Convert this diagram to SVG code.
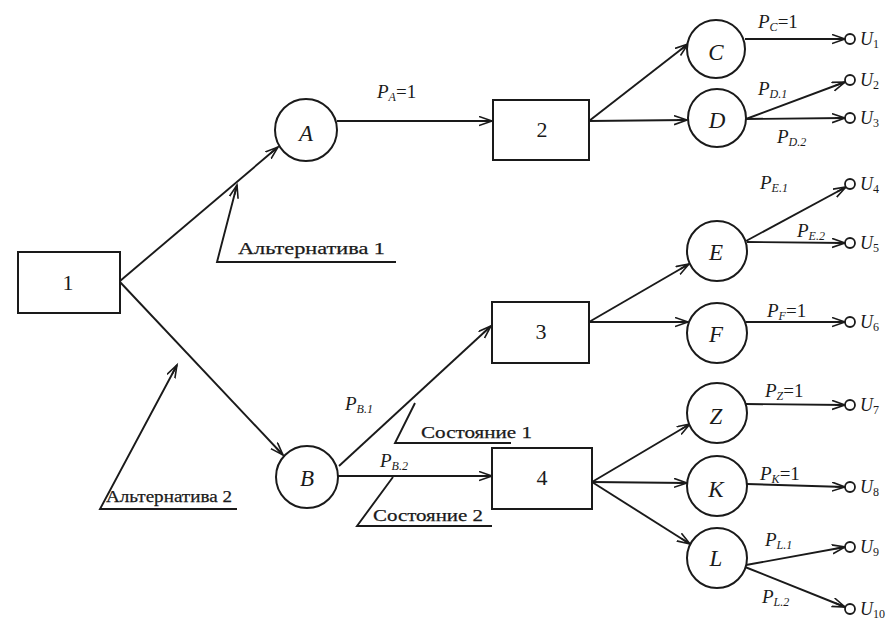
<svg xmlns="http://www.w3.org/2000/svg" width="894" height="627" viewBox="0 0 894 627">
<style>
.ln{fill:none;stroke:#1a1a1a;stroke-width:1.9}
.box{fill:#fff;stroke:#1a1a1a;stroke-width:2}
.nd{fill:#fff;stroke:#1a1a1a;stroke-width:2}
.term{fill:#fff;stroke:#1a1a1a;stroke-width:1.8}
.bl{font-family:"Liberation Serif",serif;font-size:22px;fill:#1a1a1a;text-anchor:middle}
.nl{font-family:"Liberation Serif",serif;font-style:italic;font-size:23px;fill:#1a1a1a;text-anchor:middle}
.p{font-family:"Liberation Serif",serif;font-style:italic;font-size:19px;fill:#1a1a1a}
.u{font-family:"Liberation Serif",serif;font-style:italic;font-size:18px;fill:#1a1a1a}
.s{font-size:12px;font-style:italic}
.up{font-style:normal}
.ru{font-family:"Liberation Serif",serif;font-size:17px;fill:#1a1a1a;stroke:#1a1a1a;stroke-width:0.25}
</style>
<defs>
<marker id="ar" markerUnits="userSpaceOnUse" markerWidth="16" markerHeight="12" refX="13" refY="5" orient="auto">
<path d="M0,0.5 L13,5 L0,9.5 M3,5 L13,5" fill="none" stroke="#1a1a1a" stroke-width="1.6"/>
</marker>
</defs>
<rect width="894" height="627" fill="#fff"/>

<g id="connectors">
<line class="ln" x1="120" y1="281" x2="278" y2="147" marker-end="url(#ar)"/>
<line class="ln" x1="120" y1="282" x2="283" y2="455" marker-end="url(#ar)"/>
<line class="ln" x1="337" y1="121" x2="492" y2="121" marker-end="url(#ar)"/>
<line class="ln" x1="589" y1="121" x2="688" y2="44" marker-end="url(#ar)"/>
<line class="ln" x1="589" y1="121" x2="687" y2="120" marker-end="url(#ar)"/>
<line class="ln" x1="339" y1="466" x2="491" y2="326" marker-end="url(#ar)"/>
<line class="ln" x1="338" y1="476" x2="492" y2="476" marker-end="url(#ar)"/>
<line class="ln" x1="589" y1="322" x2="689" y2="264" marker-end="url(#ar)"/>
<line class="ln" x1="589" y1="322" x2="688" y2="322" marker-end="url(#ar)"/>
<line class="ln" x1="592" y1="482" x2="690" y2="424" marker-end="url(#ar)"/>
<line class="ln" x1="592" y1="482" x2="687" y2="483" marker-end="url(#ar)"/>
<line class="ln" x1="592" y1="482" x2="690" y2="544" marker-end="url(#ar)"/>
<line class="ln" x1="745" y1="39" x2="845" y2="39" marker-end="url(#ar)"/>
<line class="ln" x1="746" y1="119" x2="845" y2="82" marker-end="url(#ar)"/>
<line class="ln" x1="746" y1="119" x2="845" y2="118" marker-end="url(#ar)"/>
<line class="ln" x1="746" y1="241" x2="846" y2="187" marker-end="url(#ar)"/>
<line class="ln" x1="747" y1="242" x2="845" y2="243" marker-end="url(#ar)"/>
<line class="ln" x1="746" y1="322" x2="845" y2="322" marker-end="url(#ar)"/>
<line class="ln" x1="746" y1="404" x2="845" y2="405" marker-end="url(#ar)"/>
<line class="ln" x1="747" y1="484" x2="845" y2="487" marker-end="url(#ar)"/>
<line class="ln" x1="746" y1="565" x2="845" y2="547" marker-end="url(#ar)"/>
<line class="ln" x1="745" y1="567" x2="845" y2="607" marker-end="url(#ar)"/>
</g>

<g id="callouts">
<polyline class="ln" points="396,262 217,262 237,185" marker-end="url(#ar)"/>
<polyline class="ln" points="237,509 100,509 177,365" marker-end="url(#ar)"/>
<polyline class="ln" points="415,403 395,443 511,443"/>
<polyline class="ln" points="393,477 357,526 492,526"/>
<text class="ru" x="238" y="254" textLength="147" lengthAdjust="spacingAndGlyphs">Альтернатива 1</text>
<text class="ru" x="106" y="502" textLength="126" lengthAdjust="spacingAndGlyphs">Альтернатива 2</text>
<text class="ru" x="421" y="438" textLength="111" lengthAdjust="spacingAndGlyphs">Состояние 1</text>
<text class="ru" x="373" y="521" textLength="110" lengthAdjust="spacingAndGlyphs">Состояние 2</text>
</g>

<g id="n1"><rect class="box" x="18" y="252" width="102" height="61"/><text class="bl" x="68" y="290">1</text></g>
<g id="n2"><rect class="box" x="493" y="100" width="96" height="60"/><text class="bl" x="542" y="137">2</text></g>
<g id="n3"><rect class="box" x="492" y="302" width="97" height="61"/><text class="bl" x="541" y="339">3</text></g>
<g id="n4"><rect class="box" x="492" y="448" width="100" height="61"/><text class="bl" x="542" y="485">4</text></g>

<g id="nA"><circle class="nd" cx="306" cy="130" r="31"/><text class="nl" x="306" y="141">A</text></g>
<g id="nB"><circle class="nd" cx="307" cy="477" r="31"/><text class="nl" x="307" y="486">B</text></g>
<g id="nC"><circle class="nd" cx="716" cy="49" r="29"/><text class="nl" x="716" y="60">C</text></g>
<g id="nD"><circle class="nd" cx="717" cy="118" r="29"/><text class="nl" x="717" y="128">D</text></g>
<g id="nE"><circle class="nd" cx="717" cy="251" r="30"/><text class="nl" x="716" y="260">E</text></g>
<g id="nF"><circle class="nd" cx="717" cy="333" r="30"/><text class="nl" x="716" y="342">F</text></g>
<g id="nZ"><circle class="nd" cx="717" cy="413" r="30"/><text class="nl" x="716" y="424">Z</text></g>
<g id="nK"><circle class="nd" cx="717" cy="486" r="30"/><text class="nl" x="716" y="497">K</text></g>
<g id="nL"><circle class="nd" cx="717" cy="558" r="30"/><text class="nl" x="716" y="566">L</text></g>

<g id="terminals">
<circle class="term" cx="850" cy="39" r="5"/><text class="u" x="860" y="45">U<tspan class="s up" dy="3">1</tspan></text>
<circle class="term" cx="850" cy="80" r="5"/><text class="u" x="860" y="86">U<tspan class="s up" dy="3">2</tspan></text>
<circle class="term" cx="850" cy="118" r="5"/><text class="u" x="860" y="124">U<tspan class="s up" dy="3">3</tspan></text>
<circle class="term" cx="850" cy="184" r="5"/><text class="u" x="860" y="190">U<tspan class="s up" dy="3">4</tspan></text>
<circle class="term" cx="850" cy="243" r="5"/><text class="u" x="860" y="249">U<tspan class="s up" dy="3">5</tspan></text>
<circle class="term" cx="850" cy="322" r="5"/><text class="u" x="860" y="328">U<tspan class="s up" dy="3">6</tspan></text>
<circle class="term" cx="850" cy="405" r="5"/><text class="u" x="860" y="411">U<tspan class="s up" dy="3">7</tspan></text>
<circle class="term" cx="850" cy="487" r="5"/><text class="u" x="860" y="493">U<tspan class="s up" dy="3">8</tspan></text>
<circle class="term" cx="850" cy="547" r="5"/><text class="u" x="860" y="553">U<tspan class="s up" dy="3">9</tspan></text>
<circle class="term" cx="850" cy="609" r="5"/><text class="u" x="860" y="615">U<tspan class="s up" dy="3">10</tspan></text>
</g>

<g id="probabilities">
<text class="p" x="377" y="98">P<tspan class="s" dy="3">A</tspan><tspan class="up" dy="-3">=1</tspan></text>
<text class="p" x="758" y="28">P<tspan class="s" dy="3">C</tspan><tspan class="up" dy="-3">=1</tspan></text>
<text class="p" x="758" y="95">P<tspan class="s" dy="3">D.1</tspan></text>
<text class="p" x="777" y="143">P<tspan class="s" dy="3">D.2</tspan></text>
<text class="p" x="760" y="189">P<tspan class="s" dy="3">E.1</tspan></text>
<text class="p" x="797" y="237">P<tspan class="s" dy="3">E.2</tspan></text>
<text class="p" x="767" y="317">P<tspan class="s" dy="3">F</tspan><tspan class="up" dy="-3">=1</tspan></text>
<text class="p" x="765" y="397">P<tspan class="s" dy="3">Z</tspan><tspan class="up" dy="-3">=1</tspan></text>
<text class="p" x="760" y="480">P<tspan class="s" dy="3">K</tspan><tspan class="up" dy="-3">=1</tspan></text>
<text class="p" x="765" y="546">P<tspan class="s" dy="3">L.1</tspan></text>
<text class="p" x="762" y="603">P<tspan class="s" dy="3">L.2</tspan></text>
<text class="p" x="345" y="410">P<tspan class="s" dy="3">B.1</tspan></text>
<text class="p" x="380" y="467">P<tspan class="s" dy="3">B.2</tspan></text>
</g>
</svg>
